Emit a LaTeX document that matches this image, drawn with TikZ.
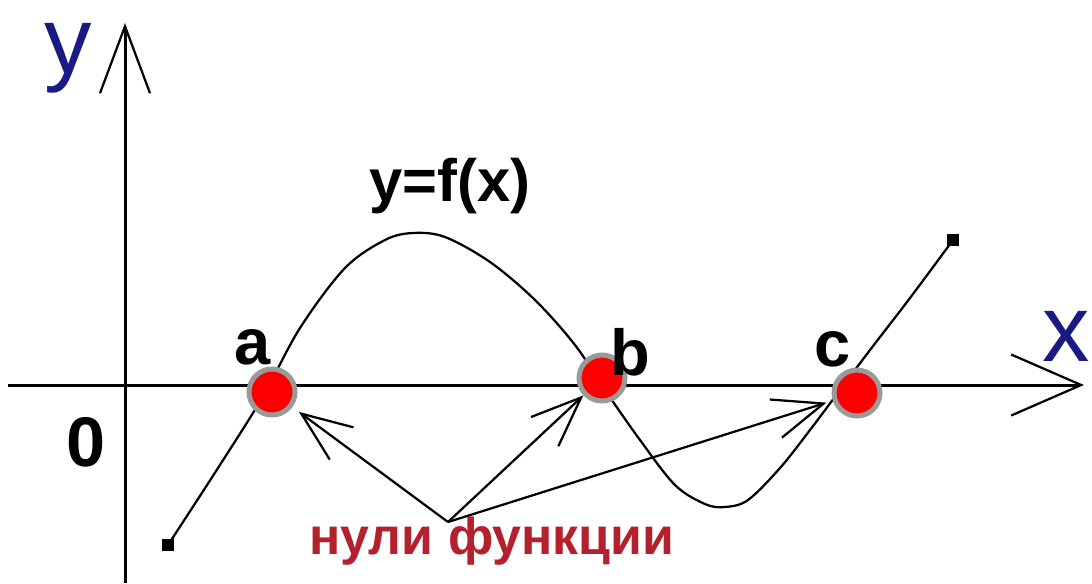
\documentclass[tikz,border=0pt]{standalone}
\usepackage{fontspec}
\setmainfont{Liberation Sans}
\usetikzlibrary{arrows.meta}
\definecolor{axisblue}{HTML}{1A1A82}
\definecolor{zerored}{HTML}{FF0000}
\definecolor{ringgray}{HTML}{9A9A9A}
\definecolor{notered}{HTML}{B5202E}
\begin{document}
\begin{tikzpicture}[x=0.02cm,y=-0.02cm,
  dot/.style={circle,fill=zerored,draw=ringgray,line width=0.1cm,minimum size=0.92cm,inner sep=0pt},
  endpt/.style={rectangle,fill=black,minimum size=0.23cm,inner sep=0pt},
  lab/.style={font=\fontsize{37}{40}\selectfont\bfseries},
  axlab/.style={font=\fontsize{54}{58}\selectfont,text=axisblue},
  zarrow/.style={-{Straight Barb[length=1cm,width=0.8cm]},line width=0.045cm}]
  \useasboundingbox (0,0) rectangle (1092,583);
  % axes
  \draw[line width=0.06cm,-{Straight Barb[length=1.4cm,width=1.22cm,line width=0.045cm]}] (8,385)--(1084,385);
  \draw[line width=0.06cm,-{Straight Barb[length=1.34cm,width=1.0cm,line width=0.045cm]}] (125,583)--(125,23);
  \node[axlab] (ylab) at (68,58) {y};
  \node[axlab] (xlab) at (1066,336) {x};
  \node[lab,font=\fontsize{40}{44}\selectfont\bfseries] (orig) at (86,442) {0};
  % graph
  \draw[line width=0.045cm] plot[smooth,tension=0.55] coordinates {(168,545) (218,468) (262,398) (300,328) (345,268) (385,240) (413,233) (445,237) (490,262) (535,300) (575,345) (605,390) (640,440) (675,485) (705,504) (725,507) (748,500) (780,468) (810,430) (840,390) (870,350) (910,298) (953,240)};
  \node[endpt] (p0) at (168,545) {};
  \node[endpt] (p1) at (953,240) {};
  \node[lab,font=\fontsize{34}{38}\selectfont\bfseries] (fx) at (450,186) {y=f(x)};
  % zeros
  \foreach \n/\x/\y in {a/272/392,b/602/378,c/857/393}
    \node[dot] (\n) at (\x,\y) {};
  \node[lab] (la) at (253,347) {a};
  \node[lab] (lb) at (630,352) {b};
  \node[lab] (lc) at (833,349) {c};
  \node[font=\fontsize{29.5}{34}\selectfont\bfseries,text=notered] (zeros) at (492,541) {нули функции};
  \coordinate (src) at (448,522);
  \draw[zarrow,shorten >=0.16cm] (src)--(a);
  \draw[zarrow] (src)--(b);
  \draw[zarrow,shorten >=0.13cm] (src)--(c);
\end{tikzpicture}
\end{document}
